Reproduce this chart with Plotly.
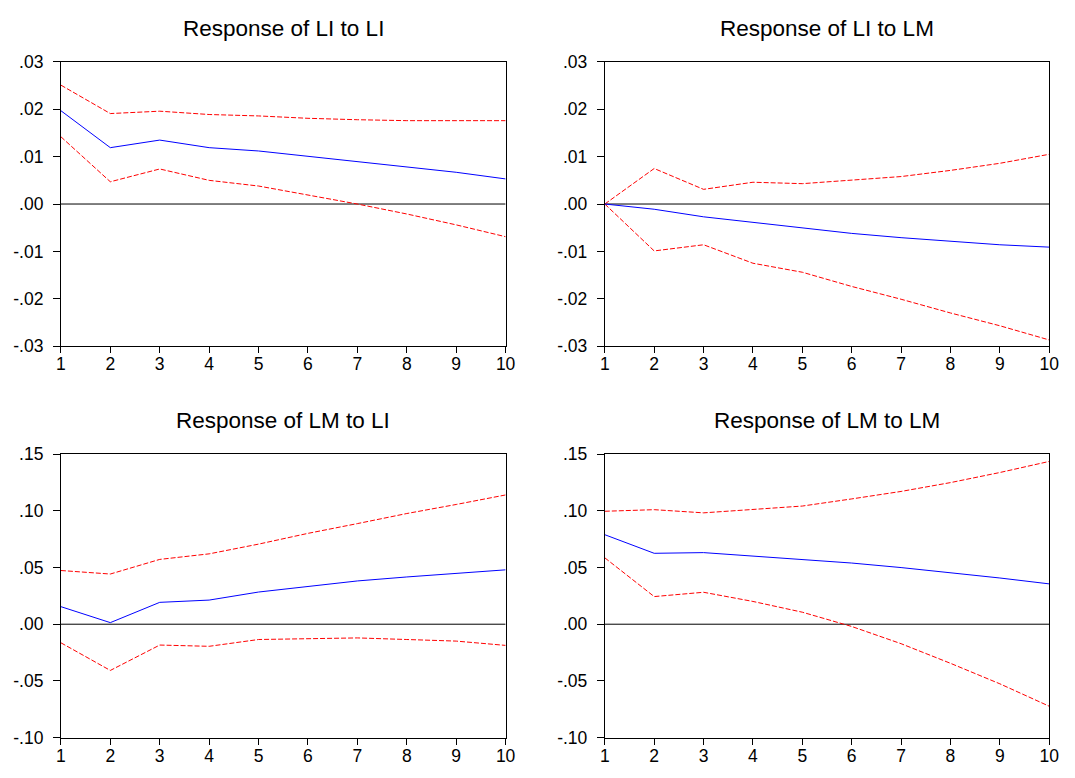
import plotly.graph_objects as go

periods = list(range(1, 11))

# Response of LI to LI
li_li_resp = [0.0197, 0.0119, 0.0135, 0.0119, 0.0112, 0.0101, 0.0090, 0.0078, 0.0067, 0.0053]
li_li_up = [0.0251, 0.0191, 0.0196, 0.0189, 0.0186, 0.0181, 0.0178, 0.0176, 0.0176, 0.0176]
li_li_lo = [0.0142, 0.0047, 0.0074, 0.0050, 0.0038, 0.0019, 0.0000, -0.0021, -0.0044, -0.0069]

# Response of LI to LM
li_lm_resp = [0.0, -0.0011, -0.0027, -0.0039, -0.0051, -0.0062, -0.0071, -0.0079, -0.0086, -0.0091]
li_lm_up = [0.0, 0.0075, 0.0031, 0.0046, 0.0043, 0.0051, 0.0058, 0.0071, 0.0086, 0.0105]
li_lm_lo = [0.0, -0.0099, -0.0086, -0.0125, -0.0144, -0.0174, -0.0201, -0.0230, -0.0257, -0.0287]

# Response of LM to LI
lm_li_resp = [0.0155, 0.0014, 0.0193, 0.0213, 0.0284, 0.0333, 0.0382, 0.0417, 0.0451, 0.0480]
lm_li_up = [0.0474, 0.0443, 0.0572, 0.0621, 0.0707, 0.0802, 0.0888, 0.0977, 0.1057, 0.1141]
lm_li_lo = [-0.0164, -0.0408, -0.0184, -0.0195, -0.0135, -0.0129, -0.0121, -0.0135, -0.0149, -0.0187]

# Response of LM to LM
lm_lm_resp = [0.0790, 0.0626, 0.0632, 0.0603, 0.0575, 0.0540, 0.0500, 0.0457, 0.0408, 0.0356]
lm_lm_up = [0.0997, 0.1011, 0.0983, 0.1011, 0.1043, 0.1106, 0.1172, 0.1250, 0.1339, 0.1437]
lm_lm_lo = [0.0586, 0.0244, 0.0282, 0.0201, 0.0106, -0.0020, -0.0172, -0.0345, -0.0526, -0.0724]

titles = ["Response of LI to LI", "Response of LI to LM",
          "Response of LM to LI", "Response of LM to LM"]

top_ticks = [-0.03, -0.02, -0.01, 0.0, 0.01, 0.02, 0.03]
top_ticktext = ["-.03", "-.02", "-.01", ".00", ".01", ".02", ".03"]
bot_ticks = [-0.10, -0.05, 0.0, 0.05, 0.10, 0.15]
bot_ticktext = ["-.10", "-.05", ".00", ".05", ".10", ".15"]

panels = [
    (li_li_resp, li_li_up, li_li_lo, top_ticks, top_ticktext, [-0.03, 0.03]),
    (li_lm_resp, li_lm_up, li_lm_lo, top_ticks, top_ticktext, [-0.03, 0.03]),
    (lm_li_resp, lm_li_up, lm_li_lo, bot_ticks, bot_ticktext, [-0.10, 0.15]),
    (lm_lm_resp, lm_lm_up, lm_lm_lo, bot_ticks, bot_ticktext, [-0.10, 0.15]),
]

W, H = 1075, 778
xdoms = [(56.7 / W, 507.7 / W), (608.3 / W, 1059 / W)]
ydoms = [(1 - 345 / H, 1 - 53.3 / H), (1 - 746.7 / H, 1 - 456 / H)]
title_y = [1 - 19.2 / H, 1 - 421 / H]

fig = go.Figure()
font_family = "Liberation Sans, Arial, sans-serif"

for i, (resp, up, lo, tv, tt, yr) in enumerate(panels):
    row, col = divmod(i, 2)
    xa = "x" if i == 0 else f"x{i+1}"
    ya = "y" if i == 0 else f"y{i+1}"
    xkey = "xaxis" if i == 0 else f"xaxis{i+1}"
    ykey = "yaxis" if i == 0 else f"yaxis{i+1}"
    # zero line
    fig.add_trace(go.Scatter(x=[1, 10], y=[0, 0], mode="lines",
                             line=dict(color="black", width=1),
                             xaxis=xa, yaxis=ya, showlegend=False, hoverinfo="skip"))
    fig.add_trace(go.Scatter(x=periods, y=up, mode="lines",
                             line=dict(color="#ff0000", width=1, dash="5px,2px"),
                             xaxis=xa, yaxis=ya, showlegend=False))
    fig.add_trace(go.Scatter(x=periods, y=lo, mode="lines",
                             line=dict(color="#ff0000", width=1, dash="5px,2px"),
                             xaxis=xa, yaxis=ya, showlegend=False))
    fig.add_trace(go.Scatter(x=periods, y=resp, mode="lines",
                             line=dict(color="#0000ff", width=1),
                             xaxis=xa, yaxis=ya, showlegend=False))
    fig.layout[xkey] = dict(
        domain=xdoms[col], anchor=ya, range=[1, 10],
        tickmode="array", tickvals=periods, ticktext=[str(p) for p in periods],
        ticks="outside", ticklen=6, tickcolor="black",
        showline=True, linecolor="black", linewidth=1, mirror=True,
        showgrid=False, zeroline=False, ticklabelstandoff=-4,
        tickfont=dict(family=font_family, size=17.5, color="black"),
    )
    fig.layout[ykey] = dict(
        domain=ydoms[row], anchor=xa, range=yr,
        tickmode="array", tickvals=tv, ticktext=tt,
        ticks="outside", ticklen=7, tickcolor="black",
        showline=True, linecolor="black", linewidth=1, mirror=True,
        showgrid=False, zeroline=False, ticklabelstandoff=6,
        tickfont=dict(family=font_family, size=17.5, color="black"),
    )
    fig.add_annotation(
        text=titles[i], xref="paper", yref="paper",
        x=(xdoms[col][0] + xdoms[col][1]) / 2, y=title_y[row],
        xanchor="center", yanchor="middle", showarrow=False,
        font=dict(family=font_family, size=22.5, color="black"),
    )

fig.update_layout(
    width=W, height=H,
    margin=dict(l=0, r=0, t=0, b=0),
    paper_bgcolor="white", plot_bgcolor="white",
    showlegend=False,
)

fig.write_html("out.html", config={"displayModeBar": False},
               post_script="document.body.style.margin='0';document.body.style.overflow='hidden';")
